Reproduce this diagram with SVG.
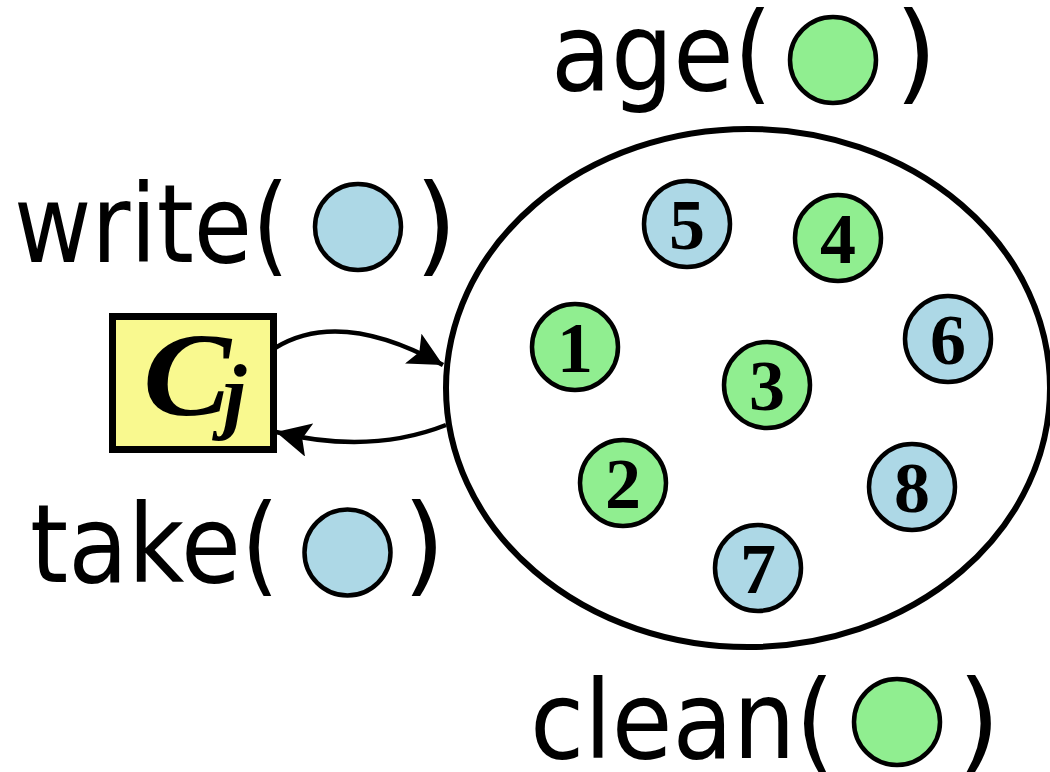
<svg xmlns="http://www.w3.org/2000/svg" width="1050" height="772" viewBox="0 0 1050 772">
<style>
.lbl{font-family:"DejaVu Sans","Liberation Sans",sans-serif;font-size:108px;fill:#000}
.num{font-family:"Liberation Serif","Times New Roman",serif;font-weight:bold;font-size:72px;text-anchor:middle;fill:#000}
.cj{font-family:"Liberation Serif","Times New Roman",serif;font-weight:bold;font-style:italic;fill:#000}
.blue{fill:#add8e6;stroke:#000;stroke-width:4.5}
.green{fill:#90ee90;stroke:#000;stroke-width:4.5}
.conn{fill:none;stroke:#000;stroke-width:4.5}
</style>
<defs>
<marker id="ah" markerUnits="userSpaceOnUse" markerWidth="36" markerHeight="34" refX="34" refY="17" orient="auto" viewBox="0 0 36 34">
<path d="M0,0 L34,17 L0,34 L7,17 z" fill="#000"/>
</marker>
</defs>
<rect width="1050" height="772" fill="#fff"/>

<g id="store">
<ellipse cx="748" cy="388" rx="302" ry="259" fill="none" stroke="#000" stroke-width="6"/>
</g>

<g id="cj">
<rect x="112.5" y="316.5" width="161" height="133" fill="#f9f98f" stroke="#000" stroke-width="7"/>
<text class="cj" x="143" y="415" font-size="118" textLength="88" lengthAdjust="spacingAndGlyphs">C</text>
<text class="cj" x="223" y="423" font-size="84">j</text>
</g>

<g id="connectors">
<path class="conn" d="M275,348 Q340,308 443,365" marker-end="url(#ah)"/>
<path class="conn" d="M446,425 Q370,455 276,432" marker-end="url(#ah)"/>
</g>

<g id="label-write">
<text class="lbl" x="14" y="262" textLength="275" lengthAdjust="spacingAndGlyphs">write(</text>
<circle class="blue" cx="358" cy="227" r="43"/>
<text class="lbl" x="436" y="262" text-anchor="middle">)</text>
</g>
<g id="label-take">
<text class="lbl" x="30" y="582" textLength="249" lengthAdjust="spacingAndGlyphs">take(</text>
<circle class="blue" cx="347.5" cy="552.5" r="43"/>
<text class="lbl" x="424" y="582" text-anchor="middle">)</text>
</g>
<g id="label-age">
<text class="lbl" x="551" y="90" textLength="221" lengthAdjust="spacingAndGlyphs">age(</text>
<circle class="green" cx="833" cy="60" r="43"/>
<text class="lbl" x="916" y="90" text-anchor="middle">)</text>
</g>
<g id="label-clean">
<text class="lbl" x="530" y="758" textLength="304" lengthAdjust="spacingAndGlyphs">clean(</text>
<circle class="green" cx="897" cy="722" r="43"/>
<text class="lbl" x="979" y="758" text-anchor="middle">)</text>
</g>

<g id="n5"><circle class="blue" cx="687" cy="224" r="43"/><text class="num" x="687" y="249">5</text></g>
<g id="n4"><circle class="green" cx="838" cy="238" r="43"/><text class="num" x="838" y="263">4</text></g>
<g id="n1"><circle class="green" cx="575" cy="347" r="43"/><text class="num" x="575" y="372">1</text></g>
<g id="n6"><circle class="blue" cx="948" cy="339" r="43"/><text class="num" x="948" y="364">6</text></g>
<g id="n3"><circle class="green" cx="767" cy="385" r="43"/><text class="num" x="767" y="410">3</text></g>
<g id="n2"><circle class="green" cx="623" cy="483" r="43"/><text class="num" x="623" y="508">2</text></g>
<g id="n8"><circle class="blue" cx="912" cy="487" r="43"/><text class="num" x="912" y="512">8</text></g>
<g id="n7"><circle class="blue" cx="758" cy="568" r="43"/><text class="num" x="758" y="593">7</text></g>
</svg>
